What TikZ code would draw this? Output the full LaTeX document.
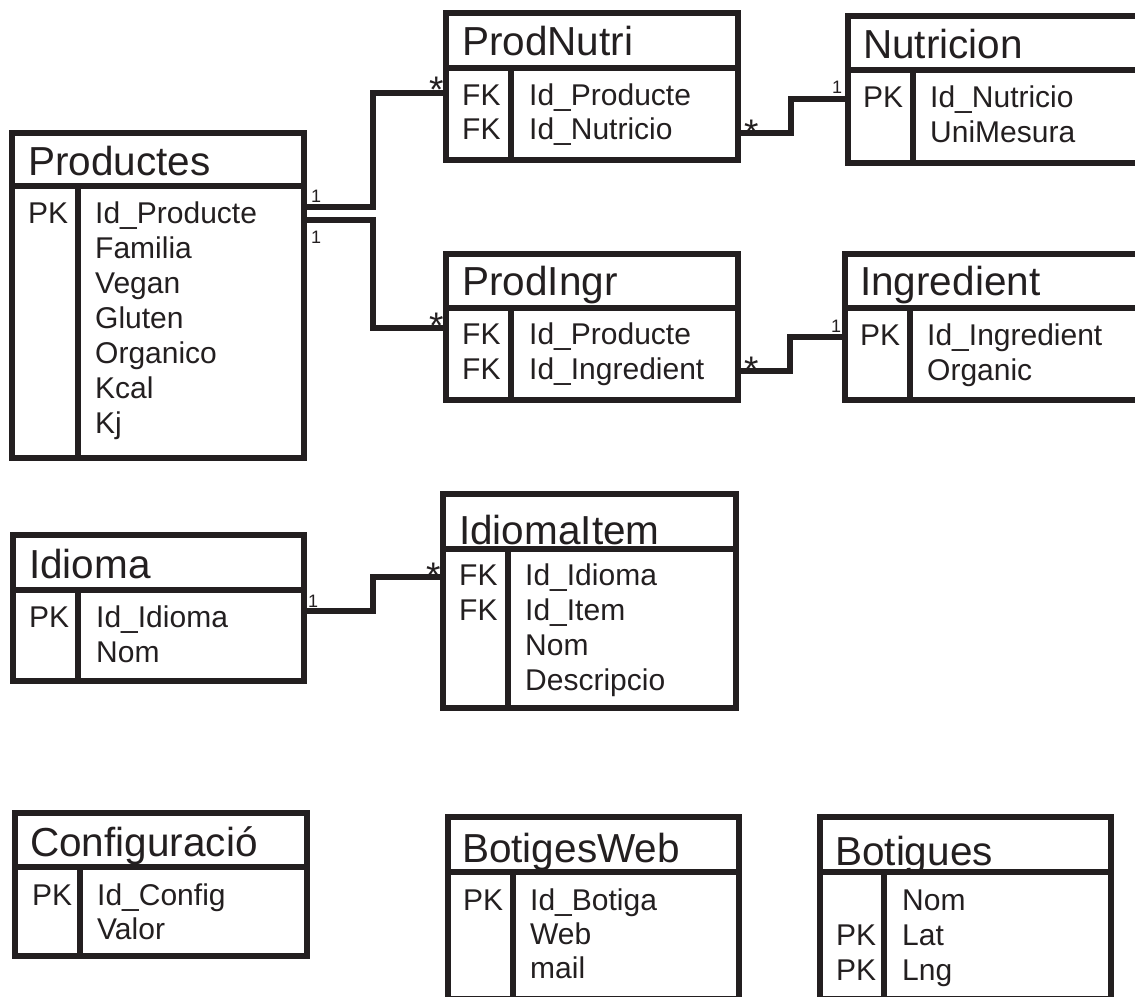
\documentclass[tikz,border=0pt]{standalone}
\usepackage{fontspec}
\setmainfont{Liberation Sans}
\definecolor{ink}{RGB}{35,31,32}
\tikzset{
  tbl/.style={draw=ink, line width=6.5pt, inner sep=0pt},
  rule/.style={draw=ink, line width=6.5pt},
  conn/.style={draw=ink, line width=6.5pt},
  ttl/.style={font=\fontsize{40.5}{40.5}\selectfont, text=ink, inner sep=0pt, anchor=base west},
  fld/.style={font=\fontsize{30}{30}\selectfont, text=ink, inner sep=0pt, anchor=base west},
  card/.style={font=\fontsize{18}{18}\selectfont, text=ink, inner sep=0pt, anchor=base west},
  star/.style={font=\fontsize{37}{37}\selectfont, text=ink, inner sep=0pt, anchor=base west}
}
% name, x1, y1, x2, y2, separator y, divider x
\newcommand{\ertable}[7]{%
  \node[tbl, minimum width={(#4-#2)*1pt}, minimum height={(#5-#3)*1pt}] (#1) at ({(#2+#4)/2},{(#3+#5)/2}) {};
  \draw[rule] (#2,#6) -- (#4,#6);
  \draw[rule] (#7,#6) -- (#7,#5);
}
% prefix, x, first baseline, spacing, list
\newcommand{\ercol}[5]{%
  \foreach \t [count=\i] in {#5} {\node[fld] (#1-\i) at (#2,{#3+#4*(\i-1)}) {\t};}
}
\begin{document}
\begin{tikzpicture}[x=1pt,y=-1pt]
\clip (0,0) rectangle (1135,996);
\fill[white] (0,0) rectangle (1135,996);

% Productes
\ertable{productes}{12}{133}{304}{458}{186}{78}
\node[ttl] (productes-t) at (28,175) {Productes};
\node[fld] (productes-k) at (28,223) {PK};
\ercol{productes-f}{95}{223}{35}{Id\_Producte,Familia,Vegan,Gluten,Organico,Kcal,Kj}

% ProdNutri
\ertable{prodnutri}{446}{13}{738}{160}{68}{511}
\node[ttl] (prodnutri-t) at (462,55) {ProdNutri};
\ercol{prodnutri-k}{462}{105}{34}{FK,FK}
\ercol{prodnutri-f}{529}{105}{34}{Id\_Producte,Id\_Nutricio}

% Nutricion
\ertable{nutricion}{848}{16}{1145}{163}{70}{913}
\node[ttl] (nutricion-t) at (863,58) {Nutricion};
\node[fld] (nutricion-k) at (863,107) {PK};
\ercol{nutricion-f}{930}{107}{35}{Id\_Nutricio,UniMesura}

% ProdIngr
\ertable{prodingr}{446}{254}{738}{400}{308}{511}
\node[ttl] (prodingr-t) at (462,295) {ProdIngr};
\ercol{prodingr-k}{462}{344}{35}{FK,FK}
\ercol{prodingr-f}{529}{344}{35}{Id\_Producte,Id\_Ingredient}

% Ingredient
\ertable{ingredient}{845}{254}{1145}{400}{308}{910}
\node[ttl] (ingredient-t) at (860,295) {Ingredient};
\node[fld] (ingredient-k) at (860,345) {PK};
\ercol{ingredient-f}{927}{345}{35}{Id\_Ingredient,Organic}

% Idioma
\ertable{idioma}{13}{535}{304}{681}{590}{78}
\node[ttl] (idioma-t) at (29,578) {Idioma};
\node[fld] (idioma-k) at (29,627) {PK};
\ercol{idioma-f}{96}{627}{35}{Id\_Idioma,Nom}

% IdiomaItem
\ertable{idiomaitem}{443}{494}{736}{708}{549}{508}
\node[ttl] (idiomaitem-t) at (459,544) {IdiomaItem};
\ercol{idiomaitem-k}{459}{585}{35}{FK,FK}
\ercol{idiomaitem-f}{525}{585}{35}{Id\_Idioma,Id\_Item,Nom,Descripcio}

% Configuracio
\ertable{config}{15}{813}{307}{956}{867}{80}
\node[ttl] (config-t) at (30,856) {Configuració};
\node[fld] (config-k) at (32,905) {PK};
\ercol{config-f}{97}{905}{34}{Id\_Config,Valor}

% BotigesWeb
\ertable{botigesweb}{448}{817}{739}{999}{872}{513}
\node[ttl] (botigesweb-t) at (462,862) {BotigesWeb};
\node[fld] (botigesweb-k) at (463,910) {PK};
\ercol{botigesweb-f}{530}{910}{34}{Id\_Botiga,Web,mail}

% Botigues
\ertable{botigues}{820}{817}{1111}{999}{872}{884}
\node[ttl] (botigues-t) at (835,865) {Botigues};
\ercol{botigues-k}{836}{945}{35}{PK,PK}
\ercol{botigues-f}{902}{910}{35}{Nom,Lat,Lng}

% connectors
\draw[conn] (productes.east |- 0,207) -- (373,207) |- (prodnutri.west |- 0,93);
\draw[conn] (productes.east |- 0,220) -- (373,220) |- (prodingr.west |- 0,328);
\draw[conn] (prodnutri.east |- 0,133) -- (791,133) |- (nutricion.west |- 0,99);
\draw[conn] (prodingr.east |- 0,371) -- (790,371) |- (ingredient.west |- 0,337);
\draw[conn] (idioma.east |- 0,611) -- (373,611) |- (idiomaitem.west |- 0,577);

% multiplicities
\node[card] (m1) at (311,202) {1};
\node[card] (m2) at (311,243) {1};
\node[star] (m3) at (429,102.5) {*};
\node[star] (m4) at (429,338.5) {*};
\node[star] (m5) at (744,145.5) {*};
\node[star] (m6) at (744,382.5) {*};
\node[card] (m7) at (832,93) {1};
\node[card] (m8) at (831,332) {1};
\node[card] (m9) at (308,607) {1};
\node[star] (m10) at (426,588.5) {*};
\end{tikzpicture}
\end{document}
